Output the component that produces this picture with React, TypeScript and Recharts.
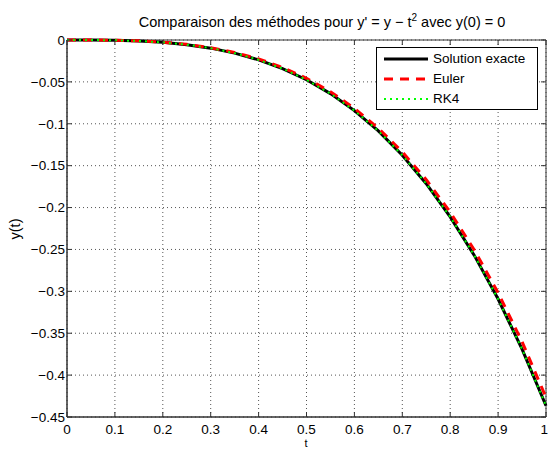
import { LineChart, Line, XAxis, YAxis, CartesianGrid, Legend, ReferenceArea } from 'recharts';

// t values (s) and solutions
const T = [0, 0.05, 0.1, 0.15, 0.2, 0.25, 0.3, 0.35, 0.4, 0.45, 0.5, 0.55, 0.6, 0.65, 0.7, 0.75, 0.8, 0.85, 0.9, 0.95, 1];
const EXACT = [0, -0.00004, -0.00034, -0.00117, -0.00281, -0.00555, -0.00972, -0.01564, -0.02365, -0.03412, -0.04744, -0.06401, -0.08424, -0.10858, -0.13751, -0.1715, -0.21108, -0.25679, -0.30921, -0.36892, -0.43656];
const EULER = [0, -0.00003, -0.00029, -0.00104, -0.00258, -0.00518, -0.00917, -0.01486, -0.0226, -0.03275, -0.04569, -0.06181, -0.08153, -0.10529, -0.13355, -0.16679, -0.20553, -0.2503, -0.30167, -0.36021, -0.42656];
const RK4 = [0, -0.00004, -0.00034, -0.00117, -0.00281, -0.00555, -0.00972, -0.01564, -0.02365, -0.03412, -0.04744, -0.06401, -0.08424, -0.10858, -0.13751, -0.1715, -0.21108, -0.25679, -0.30921, -0.36892, -0.43656];

const X_TICKS = [0, 0.1, 0.2, 0.3, 0.4, 0.5, 0.6, 0.7, 0.8, 0.9, 1];
const Y_TICKS = [0, -0.05, -0.1, -0.15, -0.2, -0.25, -0.3, -0.35, -0.4, -0.45];

const data = T.map((t, i) => ({ t, exact: EXACT[i], euler: EULER[i], rk4: RK4[i] }));

const SERIES = [
    { key: 'exact', name: 'Solution exacte', color: '#000000', width: 3, dash: undefined },
    { key: 'euler', name: 'Euler', color: '#ff0000', width: 3, dash: '9 7' },
    { key: 'rk4', name: 'RK4', color: '#00ff00', width: 2, dash: '2 4' },
];

const W = 548;
const H = 450;
const Y_AXIS_W = 67;
const X_AXIS_H = 33;
const MARGIN = { top: 40, right: 2, left: 0, bottom: 0 };
const PLOT_TOP = MARGIN.top;
const PLOT_BOTTOM = H - X_AXIS_H;
const PLOT_LEFT = Y_AXIS_W;
const PLOT_RIGHT = W - MARGIN.right;
const FONT = '"Liberation Sans", Arial, sans-serif';
const AXIS = '#333';
const TICK_FS = 13.5;
const LABEL_FS = 14.5;

const fmt = (v: number) => (v === 0 ? '0' : String(v).replace('-', '\u2212'));

const XTick = ({ x, y, payload }: any) => {
    // last label sits on the right edge: anchor it at its end so it stays inside
    const last = payload.value === X_TICKS[X_TICKS.length - 1];
    return (
        <g>
            <line x1={x} x2={x} y1={PLOT_BOTTOM} y2={PLOT_BOTTOM - 5} stroke={AXIS} />
            <line x1={x} x2={x} y1={PLOT_TOP} y2={PLOT_TOP + 5} stroke={AXIS} />
            <text
                x={last ? W : x}
                y={y}
                dy="0.71em"
                textAnchor={last ? 'end' : 'middle'}
                fontFamily={FONT}
                fontSize={TICK_FS}
                fill="#000"
            >
                {fmt(payload.value)}
            </text>
        </g>
    );
};

const YTick = ({ x, y, payload }: any) => (
    <g>
        <line x1={PLOT_LEFT} x2={PLOT_LEFT + 5} y1={y} y2={y} stroke={AXIS} />
        <line x1={PLOT_RIGHT} x2={PLOT_RIGHT - 5} y1={y} y2={y} stroke={AXIS} />
        <text x={x} y={y} dy="0.35em" textAnchor="end" fontFamily={FONT} fontSize={TICK_FS} fill="#000">
            {fmt(payload.value)}
        </text>
    </g>
);

const LegendBox = () => (
    <div
        style={{
            boxSizing: 'border-box',
            width: 162,
            height: 63,
            border: '1px solid #000',
            background: '#fff',
            padding: '1px 0 0 7px',
            fontFamily: FONT,
            fontSize: TICK_FS,
            color: '#000',
        }}
    >
        {SERIES.map(s => (
            <div key={s.key} style={{ display: 'flex', alignItems: 'center', height: 20 }}>
                <svg width={44} height={6} style={{ display: 'block' }}>
                    <line x1={0} x2={44} y1={3} y2={3} stroke={s.color} strokeWidth={s.width} strokeDasharray={s.dash} />
                </svg>
                <span style={{ marginLeft: 5, lineHeight: '20px' }}>{s.name}</span>
            </div>
        ))}
    </div>
);

export default function App() {
    return (
        <div style={{ position: 'absolute', left: 0, top: 0, width: W, height: H, background: '#fff', fontFamily: FONT, overflow: 'hidden' }}>
            <LineChart width={W} height={H} data={data} margin={MARGIN}>
                <CartesianGrid stroke="#555" strokeDasharray="1 3" />
                <XAxis
                    dataKey="t"
                    type="number"
                    domain={[0, 1]}
                    ticks={X_TICKS}
                    interval={0}
                    height={X_AXIS_H}
                    tickSize={0}
                    tickMargin={7}
                    tick={<XTick />}
                    axisLine={{ stroke: AXIS }}
                />
                <YAxis
                    type="number"
                    domain={[-0.45, 0]}
                    ticks={Y_TICKS}
                    interval={0}
                    width={Y_AXIS_W}
                    tickSize={0}
                    tickMargin={2}
                    tick={<YTick />}
                    axisLine={{ stroke: AXIS }}
                />
                <ReferenceArea x1={0} x2={1} y1={-0.45} y2={0} fill="none" stroke={AXIS} strokeWidth={1} ifOverflow="visible" />
                {SERIES.map(s => (
                    <Line
                        key={s.key}
                        type="linear"
                        dataKey={s.key}
                        name={s.name}
                        stroke={s.color}
                        strokeWidth={s.width}
                        strokeDasharray={s.dash}
                        dot={false}
                        activeDot={false}
                        isAnimationActive={false}
                    />
                ))}
                <Legend
                    content={<LegendBox />}
                    layout="vertical"
                    align="center"
                    verticalAlign="middle"
                    wrapperStyle={{ top: 47, left: 376, width: 162, height: 63 }}
                />
            </LineChart>
            <div
                style={{
                    position: 'absolute',
                    left: 322,
                    top: 14,
                    transform: 'translateX(-50%)',
                    whiteSpace: 'nowrap',
                    fontSize: LABEL_FS,
                    lineHeight: '17px',
                    color: '#000',
                }}
            >
                Comparaison des méthodes pour y' = y {'\u2212'} t<sup style={{ fontSize: 10, verticalAlign: 6, lineHeight: 0 }}>2</sup> avec y(0) = 0
            </div>
            <div style={{ position: 'absolute', left: 306, top: 437, transform: 'translateX(-50%)', fontSize: 11, lineHeight: '13px', color: '#000' }}>
                t
            </div>
            <div
                style={{
                    position: 'absolute',
                    left: 15,
                    top: 229,
                    transform: 'translate(-50%, -50%) rotate(-90deg)',
                    whiteSpace: 'nowrap',
                    fontSize: LABEL_FS,
                    lineHeight: '17px',
                    color: '#000',
                }}
            >
                y(t)
            </div>
        </div>
    );
}
